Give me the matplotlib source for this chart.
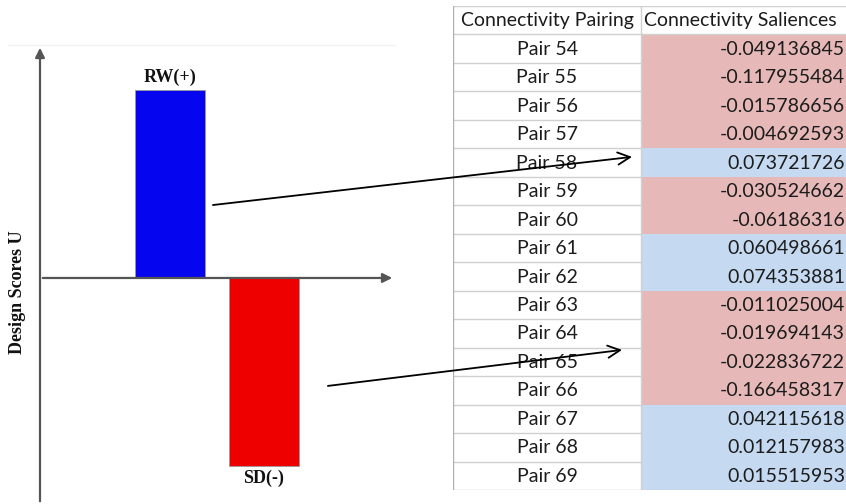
import matplotlib.pyplot as plt
from matplotlib.patches import Rectangle, ConnectionPatch

# bar chart values
groups = ['RW(+)', 'SD(-)']
scores = [1.0, -1.0]
bar_colors = ['#0505F0', '#EE0000']

# table values
pairs = ['Pair %d' % n for n in range(54, 70)]
saliences = [-0.049136845, -0.117955484, -0.015786656, -0.004692593,
             0.073721726, -0.030524662, -0.06186316, 0.060498661,
             0.074353881, -0.011025004, -0.019694143, -0.022836722,
             -0.166458317, 0.042115618, 0.012157983, 0.015515953]
headers = ['Connectivity Pairing', 'Connectivity Saliences']

W, H = 846, 504
fig = plt.figure(figsize=(W / 100, H / 100), dpi=100)

def px_axes(x0, y0, x1, y1):
    return fig.add_axes([x0 / W, 1 - y1 / H, (x1 - x0) / W, (y1 - y0) / H])

# ---- left: design scores bars
ax = px_axes(40, 45, 395, 504)
xs = list(range(len(groups)))
ax.bar(xs, scores, width=0.75, color=bar_colors, edgecolor='#9a9a9a', linewidth=0.6, zorder=2)
ax.set_xlim(-1.383, 2.394)
ax.set_ylim(-1.202, 1.239)
ax.axis('off')
y0 = 1.202 / (1.202 + 1.239)
ax.annotate('', xy=(0, 1), xytext=(0, 0), xycoords='axes fraction',
            arrowprops=dict(arrowstyle='-|>', color='#555555', lw=1.6, mutation_scale=14))
ax.annotate('', xy=(1, y0), xytext=(0, y0), xycoords='axes fraction',
            arrowprops=dict(arrowstyle='-|>', color='#555555', lw=1.6, mutation_scale=14))
serif = dict(family='Liberation Serif', weight='bold', fontsize=13, color='#111111')
for x, v, g in zip(xs, scores, groups):
    if v > 0:
        ax.annotate(g, (x, v), xytext=(0, 3), textcoords='offset points', ha='center', va='bottom', **serif)
    else:
        ax.annotate(g, (x, v), xytext=(0, -3), textcoords='offset points', ha='center', va='top', **serif)
fig.text(18 / W, 1 - 292 / H, 'Design Scores U', rotation=90, ha='center', va='center', **serif)
fig.add_artist(plt.Line2D([8 / W, 395 / W], [1 - 45 / H] * 2, color='#f2f2f2', lw=1))

# ---- right: table
tab = px_axes(453, 6, 846, 490)
nrows = len(pairs) + 1
col0, col1 = 188, 215
tab.set_xlim(0, 393)
tab.set_ylim(nrows, 0)
tab.axis('off')
grid = '#d0d0d0'
cell = dict(family='Lato', fontsize=14, color='#1c1c1c')
for i, (p, v) in enumerate(zip(pairs, saliences), start=1):
    fill = '#E6B9B8' if v < 0 else '#C5D9F1'
    tab.add_patch(Rectangle((col0, i), col1, 1, facecolor=fill, edgecolor='none'))
    tab.text(col0 / 2, i + 0.52, p, ha='center', va='center', **cell)
    tab.text(392, i + 0.52, str(v), ha='right', va='center', **cell)
tab.text(col0 / 2, 0.52, headers[0], ha='center', va='center', **cell)
tab.text(col0 + 3, 0.52, headers[1], ha='left', va='center', **cell)
for i in range(nrows + 1):
    tab.plot([0, col0], [i, i], color=grid, lw=1)
for i in (0, 1, nrows):
    tab.plot([col0, col0 + col1], [i, i], color=grid, lw=1)
tab.plot([0, 0], [0, nrows], color='#b0b0b0', lw=1)
tab.plot([col0, col0], [0, nrows], color=grid, lw=1)

# ---- arrows linking bars to table rows
r58 = pairs.index('Pair 58') + 1
r65 = pairs.index('Pair 65') + 1
for (xa, ya), (xb, yb) in [((0.457, 0.388), (179, r58 + 0.3)), ((1.68, -0.574), (169, r65 + 0.08))]:
    fig.add_artist(ConnectionPatch((xa, ya), (xb, yb), coordsA=ax.transData, coordsB=tab.transData,
                                   arrowstyle='->', mutation_scale=22, lw=1.3, color='black'))

fig.savefig('out.png', dpi=100)
